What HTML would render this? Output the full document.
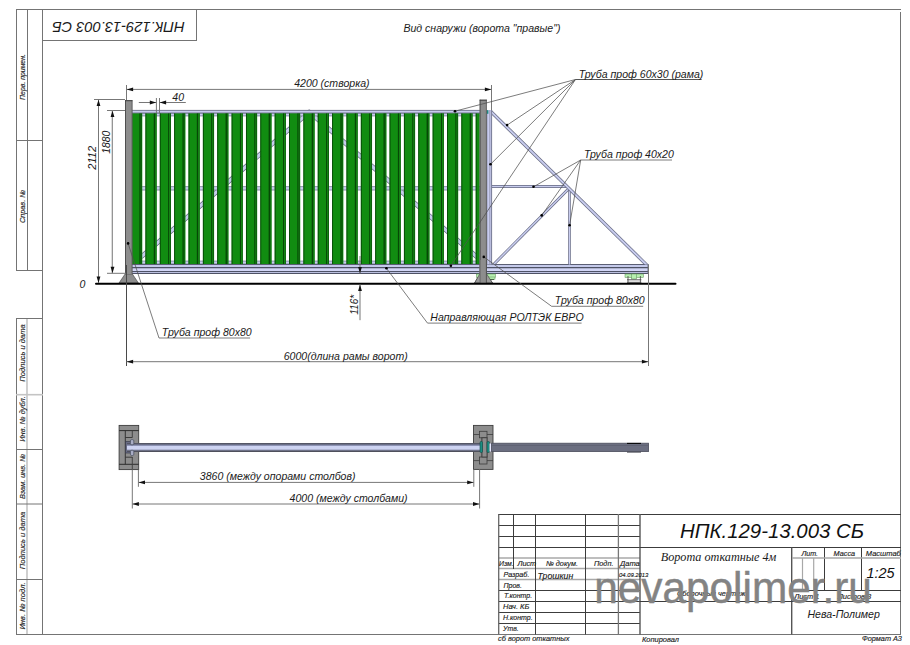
<!DOCTYPE html>
<html><head><meta charset="utf-8"><style>
html,body{margin:0;padding:0;background:#fff;width:910px;height:645px;overflow:hidden}
svg{display:block}
</style></head><body>
<svg width="910" height="645" viewBox="0 0 910 645">
<rect width="910" height="645" fill="#fff"/>
<line x1="16" y1="9.5" x2="901" y2="9.5" stroke="#747474" stroke-width="1" />
<line x1="900.5" y1="12" x2="900.5" y2="635" stroke="#747474" stroke-width="1" />
<line x1="16" y1="634.5" x2="901" y2="634.5" stroke="#747474" stroke-width="1" />
<line x1="42.5" y1="9" x2="42.5" y2="635" stroke="#747474" stroke-width="1" />
<line x1="16.5" y1="9" x2="16.5" y2="271" stroke="#747474" stroke-width="1" />
<line x1="27.5" y1="9" x2="27.5" y2="271" stroke="#747474" stroke-width="1" />
<line x1="16" y1="140.5" x2="43" y2="140.5" stroke="#747474" stroke-width="1" />
<line x1="16" y1="270.5" x2="43" y2="270.5" stroke="#747474" stroke-width="1" />
<line x1="16.5" y1="318" x2="16.5" y2="635" stroke="#747474" stroke-width="1" />
<line x1="27" y1="318.5" x2="27" y2="634" stroke="#c4c4c4" stroke-width="1.6" />
<line x1="16" y1="318.5" x2="43" y2="318.5" stroke="#747474" stroke-width="1" />
<line x1="16" y1="394.7" x2="43" y2="394.7" stroke="#c4c4c4" stroke-width="1.6" />
<line x1="16" y1="449.5" x2="43" y2="449.5" stroke="#747474" stroke-width="1" />
<line x1="16" y1="504" x2="43" y2="504" stroke="#747474" stroke-width="1" />
<line x1="16" y1="579.5" x2="43" y2="579.5" stroke="#747474" stroke-width="1" />
<text x="0" y="0" transform="translate(24.8,77) rotate(-90)" text-anchor="middle" font-family='"Liberation Sans", sans-serif' font-size="6.9" font-style="italic" fill="#222" stroke="#222" stroke-width="0.14">Перв. примен.</text>
<text x="0" y="0" transform="translate(24.8,206.5) rotate(-90)" text-anchor="middle" font-family='"Liberation Sans", sans-serif' font-size="7.3" font-style="italic" fill="#222" stroke="#222" stroke-width="0.14">Справ. №</text>
<text x="0" y="0" transform="translate(24.8,353) rotate(-90)" text-anchor="middle" font-family='"Liberation Sans", sans-serif' font-size="7.6" font-style="italic" fill="#222" stroke="#222" stroke-width="0.14">Подпись и дата</text>
<text x="0" y="0" transform="translate(24.8,419) rotate(-90)" text-anchor="middle" font-family='"Liberation Sans", sans-serif' font-size="7.4" font-style="italic" fill="#222" stroke="#222" stroke-width="0.14">Инв. № дубл.</text>
<text x="0" y="0" transform="translate(24.8,476.5) rotate(-90)" text-anchor="middle" font-family='"Liberation Sans", sans-serif' font-size="7.3" font-style="italic" fill="#222" stroke="#222" stroke-width="0.14">Взам. инв. №</text>
<text x="0" y="0" transform="translate(24.8,540.5) rotate(-90)" text-anchor="middle" font-family='"Liberation Sans", sans-serif' font-size="7.6" font-style="italic" fill="#222" stroke="#222" stroke-width="0.14">Подпись и дата</text>
<text x="0" y="0" transform="translate(24.8,606) rotate(-90)" text-anchor="middle" font-family='"Liberation Sans", sans-serif' font-size="7.6" font-style="italic" fill="#222" stroke="#222" stroke-width="0.14">Инв. № подл.</text>
<rect x="42.5" y="9.5" width="154" height="31" fill="none" stroke="#747474" stroke-width="1" />
<text x="0" y="0" transform="translate(118.4,27.3) rotate(180)" text-anchor="middle" dominant-baseline="central" textLength="132.5" lengthAdjust="spacingAndGlyphs" font-family='"Liberation Sans", sans-serif' font-size="15.4" font-style="italic" fill="#1a1a1a">НПК.129-13.003 СБ</text>
<text x="403.4" y="31.8" font-family='"Liberation Sans", sans-serif' font-size="10.55" font-style="italic" fill="#1a1a1a" >Вид снаружи (ворота "правые")</text>
<polyline points="141,257 309.2,112 477,257" fill="none" stroke="#62667e" stroke-width="4.6" stroke-linejoin="round"/>
<polyline points="141,257 309.2,112 477,257" fill="none" stroke="#c8ccee" stroke-width="3.2" stroke-linejoin="round"/>
<rect x="132" y="113" width="348" height="3.200000000000003" fill="#c8ccee" stroke="none" stroke-width="1" />
<line x1="132" y1="113.3" x2="480" y2="113.3" stroke="#62667e" stroke-width="0.6" />
<line x1="132" y1="115.9" x2="480" y2="115.9" stroke="#62667e" stroke-width="0.6" />
<rect x="132" y="186.3" width="348" height="4.0" fill="#c8ccee" stroke="none" stroke-width="1" />
<line x1="132" y1="186.60000000000002" x2="480" y2="186.60000000000002" stroke="#62667e" stroke-width="0.6" />
<line x1="132" y1="190.0" x2="480" y2="190.0" stroke="#62667e" stroke-width="0.6" />
<rect x="132" y="260.8" width="348" height="3.3999999999999773" fill="#c8ccee" stroke="none" stroke-width="1" />
<line x1="132" y1="261.1" x2="480" y2="261.1" stroke="#62667e" stroke-width="0.6" />
<line x1="132" y1="263.9" x2="480" y2="263.9" stroke="#62667e" stroke-width="0.6" />
<rect x="132.0" y="113.2" width="10.0" height="151.0" fill="#118c11" stroke="none" stroke-width="1" />
<rect x="139.4" y="113.2" width="1.4" height="151.0" fill="#064806" stroke="none" stroke-width="1" />
<rect x="140.8" y="113.2" width="1.5" height="151.0" fill="#1fa01f" stroke="none" stroke-width="1" />
<rect x="141.3" y="113.2" width="0.7" height="151.0" fill="#064806" stroke="none" stroke-width="1" />
<rect x="145.46" y="113.2" width="10.9" height="151.0" fill="#118c11" stroke="none" stroke-width="1" />
<rect x="145.46" y="113.2" width="0.9" height="151.0" fill="#064806" stroke="none" stroke-width="1" />
<rect x="153.76" y="113.2" width="1.4" height="151.0" fill="#064806" stroke="none" stroke-width="1" />
<rect x="155.16" y="113.2" width="1.5" height="151.0" fill="#1fa01f" stroke="none" stroke-width="1" />
<rect x="155.66" y="113.2" width="0.7" height="151.0" fill="#064806" stroke="none" stroke-width="1" />
<rect x="159.82" y="113.2" width="10.9" height="151.0" fill="#118c11" stroke="none" stroke-width="1" />
<rect x="159.82" y="113.2" width="0.9" height="151.0" fill="#064806" stroke="none" stroke-width="1" />
<rect x="168.12" y="113.2" width="1.4" height="151.0" fill="#064806" stroke="none" stroke-width="1" />
<rect x="169.52" y="113.2" width="1.5" height="151.0" fill="#1fa01f" stroke="none" stroke-width="1" />
<rect x="170.02" y="113.2" width="0.7" height="151.0" fill="#064806" stroke="none" stroke-width="1" />
<rect x="174.18" y="113.2" width="10.9" height="151.0" fill="#118c11" stroke="none" stroke-width="1" />
<rect x="174.18" y="113.2" width="0.9" height="151.0" fill="#064806" stroke="none" stroke-width="1" />
<rect x="182.48" y="113.2" width="1.4" height="151.0" fill="#064806" stroke="none" stroke-width="1" />
<rect x="183.88" y="113.2" width="1.5" height="151.0" fill="#1fa01f" stroke="none" stroke-width="1" />
<rect x="184.38" y="113.2" width="0.7" height="151.0" fill="#064806" stroke="none" stroke-width="1" />
<rect x="188.54" y="113.2" width="10.9" height="151.0" fill="#118c11" stroke="none" stroke-width="1" />
<rect x="188.54" y="113.2" width="0.9" height="151.0" fill="#064806" stroke="none" stroke-width="1" />
<rect x="196.84" y="113.2" width="1.4" height="151.0" fill="#064806" stroke="none" stroke-width="1" />
<rect x="198.24" y="113.2" width="1.5" height="151.0" fill="#1fa01f" stroke="none" stroke-width="1" />
<rect x="198.74" y="113.2" width="0.7" height="151.0" fill="#064806" stroke="none" stroke-width="1" />
<rect x="202.9" y="113.2" width="10.9" height="151.0" fill="#118c11" stroke="none" stroke-width="1" />
<rect x="202.9" y="113.2" width="0.9" height="151.0" fill="#064806" stroke="none" stroke-width="1" />
<rect x="211.2" y="113.2" width="1.4" height="151.0" fill="#064806" stroke="none" stroke-width="1" />
<rect x="212.6" y="113.2" width="1.5" height="151.0" fill="#1fa01f" stroke="none" stroke-width="1" />
<rect x="213.1" y="113.2" width="0.7" height="151.0" fill="#064806" stroke="none" stroke-width="1" />
<rect x="217.26" y="113.2" width="10.9" height="151.0" fill="#118c11" stroke="none" stroke-width="1" />
<rect x="217.26" y="113.2" width="0.9" height="151.0" fill="#064806" stroke="none" stroke-width="1" />
<rect x="225.56" y="113.2" width="1.4" height="151.0" fill="#064806" stroke="none" stroke-width="1" />
<rect x="226.96" y="113.2" width="1.5" height="151.0" fill="#1fa01f" stroke="none" stroke-width="1" />
<rect x="227.46" y="113.2" width="0.7" height="151.0" fill="#064806" stroke="none" stroke-width="1" />
<rect x="231.62" y="113.2" width="10.9" height="151.0" fill="#118c11" stroke="none" stroke-width="1" />
<rect x="231.62" y="113.2" width="0.9" height="151.0" fill="#064806" stroke="none" stroke-width="1" />
<rect x="239.92" y="113.2" width="1.4" height="151.0" fill="#064806" stroke="none" stroke-width="1" />
<rect x="241.32" y="113.2" width="1.5" height="151.0" fill="#1fa01f" stroke="none" stroke-width="1" />
<rect x="241.82" y="113.2" width="0.7" height="151.0" fill="#064806" stroke="none" stroke-width="1" />
<rect x="245.98" y="113.2" width="10.9" height="151.0" fill="#118c11" stroke="none" stroke-width="1" />
<rect x="245.98" y="113.2" width="0.9" height="151.0" fill="#064806" stroke="none" stroke-width="1" />
<rect x="254.28" y="113.2" width="1.4" height="151.0" fill="#064806" stroke="none" stroke-width="1" />
<rect x="255.68" y="113.2" width="1.5" height="151.0" fill="#1fa01f" stroke="none" stroke-width="1" />
<rect x="256.18" y="113.2" width="0.7" height="151.0" fill="#064806" stroke="none" stroke-width="1" />
<rect x="260.34" y="113.2" width="10.9" height="151.0" fill="#118c11" stroke="none" stroke-width="1" />
<rect x="260.34" y="113.2" width="0.9" height="151.0" fill="#064806" stroke="none" stroke-width="1" />
<rect x="268.64" y="113.2" width="1.4" height="151.0" fill="#064806" stroke="none" stroke-width="1" />
<rect x="270.04" y="113.2" width="1.5" height="151.0" fill="#1fa01f" stroke="none" stroke-width="1" />
<rect x="270.54" y="113.2" width="0.7" height="151.0" fill="#064806" stroke="none" stroke-width="1" />
<rect x="274.7" y="113.2" width="10.9" height="151.0" fill="#118c11" stroke="none" stroke-width="1" />
<rect x="274.7" y="113.2" width="0.9" height="151.0" fill="#064806" stroke="none" stroke-width="1" />
<rect x="283.0" y="113.2" width="1.4" height="151.0" fill="#064806" stroke="none" stroke-width="1" />
<rect x="284.4" y="113.2" width="1.5" height="151.0" fill="#1fa01f" stroke="none" stroke-width="1" />
<rect x="284.9" y="113.2" width="0.7" height="151.0" fill="#064806" stroke="none" stroke-width="1" />
<rect x="289.06" y="113.2" width="10.9" height="151.0" fill="#118c11" stroke="none" stroke-width="1" />
<rect x="289.06" y="113.2" width="0.9" height="151.0" fill="#064806" stroke="none" stroke-width="1" />
<rect x="297.36" y="113.2" width="1.4" height="151.0" fill="#064806" stroke="none" stroke-width="1" />
<rect x="298.76" y="113.2" width="1.5" height="151.0" fill="#1fa01f" stroke="none" stroke-width="1" />
<rect x="299.26" y="113.2" width="0.7" height="151.0" fill="#064806" stroke="none" stroke-width="1" />
<rect x="303.42" y="113.2" width="10.9" height="151.0" fill="#118c11" stroke="none" stroke-width="1" />
<rect x="303.42" y="113.2" width="0.9" height="151.0" fill="#064806" stroke="none" stroke-width="1" />
<rect x="311.72" y="113.2" width="1.4" height="151.0" fill="#064806" stroke="none" stroke-width="1" />
<rect x="313.12" y="113.2" width="1.5" height="151.0" fill="#1fa01f" stroke="none" stroke-width="1" />
<rect x="313.62" y="113.2" width="0.7" height="151.0" fill="#064806" stroke="none" stroke-width="1" />
<rect x="317.78" y="113.2" width="10.9" height="151.0" fill="#118c11" stroke="none" stroke-width="1" />
<rect x="317.78" y="113.2" width="0.9" height="151.0" fill="#064806" stroke="none" stroke-width="1" />
<rect x="326.08" y="113.2" width="1.4" height="151.0" fill="#064806" stroke="none" stroke-width="1" />
<rect x="327.48" y="113.2" width="1.5" height="151.0" fill="#1fa01f" stroke="none" stroke-width="1" />
<rect x="327.98" y="113.2" width="0.7" height="151.0" fill="#064806" stroke="none" stroke-width="1" />
<rect x="332.14" y="113.2" width="10.9" height="151.0" fill="#118c11" stroke="none" stroke-width="1" />
<rect x="332.14" y="113.2" width="0.9" height="151.0" fill="#064806" stroke="none" stroke-width="1" />
<rect x="340.44" y="113.2" width="1.4" height="151.0" fill="#064806" stroke="none" stroke-width="1" />
<rect x="341.84" y="113.2" width="1.5" height="151.0" fill="#1fa01f" stroke="none" stroke-width="1" />
<rect x="342.34" y="113.2" width="0.7" height="151.0" fill="#064806" stroke="none" stroke-width="1" />
<rect x="346.5" y="113.2" width="10.9" height="151.0" fill="#118c11" stroke="none" stroke-width="1" />
<rect x="346.5" y="113.2" width="0.9" height="151.0" fill="#064806" stroke="none" stroke-width="1" />
<rect x="354.8" y="113.2" width="1.4" height="151.0" fill="#064806" stroke="none" stroke-width="1" />
<rect x="356.2" y="113.2" width="1.5" height="151.0" fill="#1fa01f" stroke="none" stroke-width="1" />
<rect x="356.7" y="113.2" width="0.7" height="151.0" fill="#064806" stroke="none" stroke-width="1" />
<rect x="360.86" y="113.2" width="10.9" height="151.0" fill="#118c11" stroke="none" stroke-width="1" />
<rect x="360.86" y="113.2" width="0.9" height="151.0" fill="#064806" stroke="none" stroke-width="1" />
<rect x="369.16" y="113.2" width="1.4" height="151.0" fill="#064806" stroke="none" stroke-width="1" />
<rect x="370.56" y="113.2" width="1.5" height="151.0" fill="#1fa01f" stroke="none" stroke-width="1" />
<rect x="371.06" y="113.2" width="0.7" height="151.0" fill="#064806" stroke="none" stroke-width="1" />
<rect x="375.22" y="113.2" width="10.9" height="151.0" fill="#118c11" stroke="none" stroke-width="1" />
<rect x="375.22" y="113.2" width="0.9" height="151.0" fill="#064806" stroke="none" stroke-width="1" />
<rect x="383.52" y="113.2" width="1.4" height="151.0" fill="#064806" stroke="none" stroke-width="1" />
<rect x="384.92" y="113.2" width="1.5" height="151.0" fill="#1fa01f" stroke="none" stroke-width="1" />
<rect x="385.42" y="113.2" width="0.7" height="151.0" fill="#064806" stroke="none" stroke-width="1" />
<rect x="389.58" y="113.2" width="10.9" height="151.0" fill="#118c11" stroke="none" stroke-width="1" />
<rect x="389.58" y="113.2" width="0.9" height="151.0" fill="#064806" stroke="none" stroke-width="1" />
<rect x="397.88" y="113.2" width="1.4" height="151.0" fill="#064806" stroke="none" stroke-width="1" />
<rect x="399.28" y="113.2" width="1.5" height="151.0" fill="#1fa01f" stroke="none" stroke-width="1" />
<rect x="399.78" y="113.2" width="0.7" height="151.0" fill="#064806" stroke="none" stroke-width="1" />
<rect x="403.94" y="113.2" width="10.9" height="151.0" fill="#118c11" stroke="none" stroke-width="1" />
<rect x="403.94" y="113.2" width="0.9" height="151.0" fill="#064806" stroke="none" stroke-width="1" />
<rect x="412.24" y="113.2" width="1.4" height="151.0" fill="#064806" stroke="none" stroke-width="1" />
<rect x="413.64" y="113.2" width="1.5" height="151.0" fill="#1fa01f" stroke="none" stroke-width="1" />
<rect x="414.14" y="113.2" width="0.7" height="151.0" fill="#064806" stroke="none" stroke-width="1" />
<rect x="418.3" y="113.2" width="10.9" height="151.0" fill="#118c11" stroke="none" stroke-width="1" />
<rect x="418.3" y="113.2" width="0.9" height="151.0" fill="#064806" stroke="none" stroke-width="1" />
<rect x="426.6" y="113.2" width="1.4" height="151.0" fill="#064806" stroke="none" stroke-width="1" />
<rect x="428.0" y="113.2" width="1.5" height="151.0" fill="#1fa01f" stroke="none" stroke-width="1" />
<rect x="428.5" y="113.2" width="0.7" height="151.0" fill="#064806" stroke="none" stroke-width="1" />
<rect x="432.66" y="113.2" width="10.9" height="151.0" fill="#118c11" stroke="none" stroke-width="1" />
<rect x="432.66" y="113.2" width="0.9" height="151.0" fill="#064806" stroke="none" stroke-width="1" />
<rect x="440.96" y="113.2" width="1.4" height="151.0" fill="#064806" stroke="none" stroke-width="1" />
<rect x="442.36" y="113.2" width="1.5" height="151.0" fill="#1fa01f" stroke="none" stroke-width="1" />
<rect x="442.86" y="113.2" width="0.7" height="151.0" fill="#064806" stroke="none" stroke-width="1" />
<rect x="447.02" y="113.2" width="10.9" height="151.0" fill="#118c11" stroke="none" stroke-width="1" />
<rect x="447.02" y="113.2" width="0.9" height="151.0" fill="#064806" stroke="none" stroke-width="1" />
<rect x="455.32" y="113.2" width="1.4" height="151.0" fill="#064806" stroke="none" stroke-width="1" />
<rect x="456.72" y="113.2" width="1.5" height="151.0" fill="#1fa01f" stroke="none" stroke-width="1" />
<rect x="457.22" y="113.2" width="0.7" height="151.0" fill="#064806" stroke="none" stroke-width="1" />
<rect x="461.38" y="113.2" width="10.9" height="151.0" fill="#118c11" stroke="none" stroke-width="1" />
<rect x="461.38" y="113.2" width="0.9" height="151.0" fill="#064806" stroke="none" stroke-width="1" />
<rect x="469.68" y="113.2" width="1.4" height="151.0" fill="#064806" stroke="none" stroke-width="1" />
<rect x="471.08" y="113.2" width="1.5" height="151.0" fill="#1fa01f" stroke="none" stroke-width="1" />
<rect x="471.58" y="113.2" width="0.7" height="151.0" fill="#064806" stroke="none" stroke-width="1" />
<rect x="475.74" y="113.2" width="3.96" height="151.0" fill="#118c11" stroke="none" stroke-width="1" />
<rect x="475.74" y="113.2" width="0.9" height="151.0" fill="#064806" stroke="none" stroke-width="1" />
<rect x="132" y="110.2" width="348" height="2.8" fill="#c8ccee" stroke="none" stroke-width="1" />
<line x1="132" y1="110.4" x2="480" y2="110.4" stroke="#62667e" stroke-width="0.8" />
<line x1="132" y1="112.9" x2="480" y2="112.9" stroke="#62667e" stroke-width="0.7" />
<rect x="132" y="264.2" width="516.3" height="9.5" fill="#bcc0e0" stroke="none" stroke-width="1" />
<rect x="132" y="268.1" width="516.3" height="3" fill="#d2d6f6"/>
<rect x="132" y="265.2" width="516.3" height="1.6" fill="#c8ccee"/>
<line x1="132" y1="264.5" x2="648.3" y2="264.5" stroke="#4e5266" stroke-width="0.9" />
<line x1="132" y1="267.6" x2="648.3" y2="267.6" stroke="#4e5266" stroke-width="1.1" />
<line x1="132" y1="271.5" x2="648.3" y2="271.5" stroke="#4e5266" stroke-width="1.1" />
<line x1="132" y1="273.5" x2="648.3" y2="273.5" stroke="#4e5266" stroke-width="1.0" />
<line x1="648" y1="264.2" x2="648" y2="273.8" stroke="#62667e" stroke-width="0.9" />
<defs><clipPath id="tri"><rect x="491" y="109.6" width="157.6" height="154.8"/></clipPath></defs><g clip-path="url(#tri)">
<line x1="569.5" y1="188.5" x2="569.5" y2="265" stroke="#62667e" stroke-width="2.6"/>
<line x1="569.5" y1="188.5" x2="569.5" y2="265" stroke="#c8ccee" stroke-width="1.3"/>
<line x1="492.6" y1="265.5" x2="568.4" y2="189" stroke="#62667e" stroke-width="2.9"/>
<line x1="492.6" y1="265.5" x2="568.4" y2="189" stroke="#c8ccee" stroke-width="1.5999999999999999"/>
<line x1="491" y1="186.5" x2="566" y2="186.5" stroke="#62667e" stroke-width="2.8"/>
<line x1="491" y1="186.5" x2="566" y2="186.5" stroke="#c8ccee" stroke-width="1.4999999999999998"/>
<line x1="490.5" y1="111.2" x2="650" y2="268.2" stroke="#62667e" stroke-width="3.3"/>
<line x1="490.5" y1="111.2" x2="650" y2="268.2" stroke="#c8ccee" stroke-width="1.9999999999999998"/>
</g>
<rect x="486.6" y="110" width="5.4" height="154.5" fill="#c8ccee" stroke="none" stroke-width="1" />
<line x1="489.8" y1="110" x2="489.8" y2="264.5" stroke="#8a8ea8" stroke-width="0.8" />
<line x1="491.6" y1="110" x2="491.6" y2="264.5" stroke="#62667e" stroke-width="0.8" />
<line x1="487.0" y1="110" x2="487.0" y2="264.5" stroke="#7a7e98" stroke-width="0.6" />
<rect x="486.8" y="110.2" width="1.6" height="3.6" fill="#1d8a80" stroke="none" stroke-width="1" />
<polygon points="125.1,274 132.4,274 138.4,283 119,283" fill="#8d8d8d" stroke="#3c3c3c" stroke-width="0.6" />
<rect x="125.1" y="100.2" width="7.300000000000011" height="173.8" fill="#8d8d8d" stroke="none" stroke-width="1" />
<line x1="125.5" y1="100.2" x2="125.5" y2="274" stroke="#3c3c3c" stroke-width="0.8" />
<line x1="132.1" y1="100.2" x2="132.1" y2="274" stroke="#3c3c3c" stroke-width="0.6" />
<line x1="125.1" y1="100.7" x2="132.4" y2="100.7" stroke="#3c3c3c" stroke-width="1" />
<polygon points="479.7,274 486.7,274 492.5,283 474.6,283" fill="#8d8d8d" stroke="#3c3c3c" stroke-width="0.6" />
<rect x="479.7" y="99.7" width="7.0" height="174.3" fill="#8d8d8d" stroke="none" stroke-width="1" />
<line x1="480.09999999999997" y1="99.7" x2="480.09999999999997" y2="274" stroke="#3c3c3c" stroke-width="0.8" />
<line x1="486.4" y1="99.7" x2="486.4" y2="274" stroke="#3c3c3c" stroke-width="0.6" />
<line x1="479.7" y1="100.2" x2="486.7" y2="100.2" stroke="#3c3c3c" stroke-width="1" />
<rect x="625" y="274" width="18.399999999999977" height="3.5" fill="#b7efb0" stroke="#5a8a55" stroke-width="0.5" />
<rect x="631.7" y="274" width="5" height="5" fill="#b7efb0" stroke="#5a8a55" stroke-width="0.5" />
<line x1="627" y1="279.8" x2="641.4" y2="279.8" stroke="#333" stroke-width="0.8" />
<line x1="628" y1="276" x2="628" y2="282.5" stroke="#444" stroke-width="0.8" />
<line x1="640.4" y1="276" x2="640.4" y2="282.5" stroke="#444" stroke-width="0.8" />
<line x1="627" y1="282.3" x2="641.4" y2="282.3" stroke="#333" stroke-width="0.8" />
<rect x="476.5" y="274" width="19" height="3.5" fill="#b7efb0" stroke="#5a8a55" stroke-width="0.5" />
<rect x="487" y="277" width="8" height="2.2" fill="#b7efb0" stroke="#5a8a55" stroke-width="0.5" />
<line x1="489" y1="279.5" x2="494" y2="279.5" stroke="#3a5a3a" stroke-width="0.9" />
<polygon points="479.7,274 486.7,274 492.5,283 474.6,283" fill="#9a9a9a" stroke="#3c3c3c" stroke-width="0.6" />
<rect x="479.7" y="260" width="7" height="23" fill="#8d8d8d" stroke="none" stroke-width="1" />
<line x1="480.1" y1="260" x2="480.1" y2="283" stroke="#5a5a5a" stroke-width="0.7" />
<line x1="486.4" y1="260" x2="486.4" y2="283" stroke="#3c3c3c" stroke-width="0.7" />
<line x1="96" y1="283.8" x2="675.5" y2="283.8" stroke="#000" stroke-width="2.0" stroke-linecap="round"/>
<line x1="126.5" y1="85" x2="126.5" y2="100" stroke="#777777" stroke-width="1" />
<line x1="491.5" y1="85" x2="491.5" y2="110" stroke="#777777" stroke-width="1" />
<line x1="126.5" y1="89.4" x2="491.5" y2="89.4" stroke="#777777" stroke-width="1" />
<polygon points="126.7,89.4 133.1,87.5 133.1,91.3" fill="#111" stroke="none" stroke-width="1" />
<polygon points="491.3,89.4 484.9,91.3 484.9,87.5" fill="#111" stroke="none" stroke-width="1" />
<text x="294.2" y="86.7" font-family='"Liberation Sans", sans-serif' font-size="10.55" font-style="italic" fill="#1a1a1a" >4200 (створка)</text>
<line x1="156.4" y1="98" x2="156.4" y2="113" stroke="#777777" stroke-width="1" />
<line x1="159.5" y1="98" x2="159.5" y2="113" stroke="#777777" stroke-width="1" />
<line x1="138.8" y1="102.5" x2="156.4" y2="102.5" stroke="#777777" stroke-width="1" />
<line x1="159.5" y1="102.5" x2="185.8" y2="102.5" stroke="#777777" stroke-width="1" />
<polygon points="156.2,102.5 149.8,104.4 149.8,100.6" fill="#111" stroke="none" stroke-width="1" />
<polygon points="159.7,102.5 166.1,100.6 166.1,104.4" fill="#111" stroke="none" stroke-width="1" />
<text x="172.3" y="100.8" font-family='"Liberation Sans", sans-serif' font-size="10.55" font-style="italic" fill="#1a1a1a" >40</text>
<line x1="94" y1="99.5" x2="125" y2="99.5" stroke="#777777" stroke-width="1" />
<line x1="98.5" y1="99.5" x2="98.5" y2="283" stroke="#777777" stroke-width="1" />
<polygon points="98.5,99.7 100.4,106.1 96.6,106.1" fill="#111" stroke="none" stroke-width="1" />
<polygon points="98.5,283 96.6,276.6 100.4,276.6" fill="#111" stroke="none" stroke-width="1" />
<line x1="107" y1="110.5" x2="125" y2="110.5" stroke="#777777" stroke-width="1" />
<line x1="112.3" y1="110.5" x2="112.3" y2="273.2" stroke="#8a8a8a" stroke-width="1.2" />
<polygon points="112.5,110.7 114.4,117.1 110.6,117.1" fill="#111" stroke="none" stroke-width="1" />
<polygon points="112.5,273.2 110.6,266.8 114.4,266.8" fill="#111" stroke="none" stroke-width="1" />
<line x1="107" y1="273.3" x2="126" y2="273.3" stroke="#777777" stroke-width="1" />
<text x="0" y="0" transform="translate(96.4,157.8) rotate(-90)" text-anchor="middle" font-family='"Liberation Sans", sans-serif' font-size="11" font-style="italic" fill="#1a1a1a">2112</text>
<text x="0" y="0" transform="translate(110.2,142.2) rotate(-90)" text-anchor="middle" font-family='"Liberation Sans", sans-serif' font-size="10.4" font-style="italic" fill="#1a1a1a">1880</text>
<text x="79.5" y="287.6" font-family='"Liberation Sans", sans-serif' font-size="10.55" font-style="italic" fill="#1a1a1a" >0</text>
<line x1="360" y1="256" x2="360" y2="273.3" stroke="#777777" stroke-width="1" />
<polygon points="360,273.3 358.1,266.9 361.9,266.9" fill="#111" stroke="none" stroke-width="1" />
<line x1="360" y1="284.6" x2="360" y2="320.2" stroke="#777777" stroke-width="1" />
<polygon points="360,284.6 361.9,291.0 358.1,291.0" fill="#111" stroke="none" stroke-width="1" />
<text x="0" y="0" transform="translate(357.6,304.8) rotate(-90)" text-anchor="middle" font-family='"Liberation Sans", sans-serif' font-size="10" font-style="italic" fill="#1a1a1a">116*</text>
<line x1="126.5" y1="265" x2="126.5" y2="366" stroke="#4a4a4a" stroke-width="1" />
<line x1="648.5" y1="264.5" x2="648.5" y2="366" stroke="#777777" stroke-width="1" />
<line x1="126.5" y1="361.7" x2="648.5" y2="361.7" stroke="#777777" stroke-width="1" />
<polygon points="126.7,361.7 133.1,359.8 133.1,363.6" fill="#111" stroke="none" stroke-width="1" />
<polygon points="648.3,361.7 641.9,363.6 641.9,359.8" fill="#111" stroke="none" stroke-width="1" />
<text x="283.7" y="359.7" font-family='"Liberation Sans", sans-serif' font-size="10.55" font-style="italic" fill="#1a1a1a" >6000(длина рамы ворот)</text>
<polyline points="455,111.2 575.5,79.5" fill="none" stroke="#505050" stroke-width="0.75"/>
<circle cx="455" cy="111.2" r="1.3" fill="#000"/>
<polyline points="507.1,125.1 575.5,79.5" fill="none" stroke="#505050" stroke-width="0.75"/>
<circle cx="507.1" cy="125.1" r="1.3" fill="#000"/>
<polyline points="490.5,164.3 575.5,79.5" fill="none" stroke="#505050" stroke-width="0.75"/>
<circle cx="490.5" cy="164.3" r="1.3" fill="#000"/>
<polyline points="450.9,265.7 575.5,79.5" fill="none" stroke="#505050" stroke-width="0.75"/>
<circle cx="450.9" cy="265.7" r="1.3" fill="#000"/>
<line x1="575.5" y1="79.5" x2="701.6" y2="79.5" stroke="#555" stroke-width="1"/>
<text x="578.7" y="77.7" font-family='"Liberation Sans", sans-serif' font-size="10.55" font-style="italic" fill="#1a1a1a" >Труба проф 60x30 (рама)</text>
<polyline points="533.5,186.8 580.7,160" fill="none" stroke="#505050" stroke-width="0.75"/>
<circle cx="533.5" cy="186.8" r="1.3" fill="#000"/>
<polyline points="541.7,215.4 580.7,160" fill="none" stroke="#505050" stroke-width="0.75"/>
<circle cx="541.7" cy="215.4" r="1.3" fill="#000"/>
<polyline points="569.6,225.3 580.7,160" fill="none" stroke="#505050" stroke-width="0.75"/>
<circle cx="569.6" cy="225.3" r="1.3" fill="#000"/>
<polyline points="580.7,160 672,160" fill="none" stroke="#505050" stroke-width="0.75"/>
<text x="584" y="157.9" font-family='"Liberation Sans", sans-serif' font-size="10.55" font-style="italic" fill="#1a1a1a" >Труба проф 40x20</text>
<polyline points="483.8,256.9 551.6,306.3 643.2,306.3" fill="none" stroke="#505050" stroke-width="0.75"/>
<circle cx="483.8" cy="256.9" r="1.3" fill="#000"/>
<text x="554.8" y="303.7" font-family='"Liberation Sans", sans-serif' font-size="10.55" font-style="italic" fill="#1a1a1a" >Труба проф 80x80</text>
<polyline points="386.4,268.3 427.5,323.1 581.6,323.1" fill="none" stroke="#505050" stroke-width="0.75"/>
<circle cx="386.4" cy="268.3" r="1.3" fill="#000"/>
<text x="430.3" y="320.9" font-family='"Liberation Sans", sans-serif' font-size="10.55" font-style="italic" fill="#1a1a1a" >Направляющая РОЛТЭК ЕВРО</text>
<polyline points="128.1,243.4 159,338 250.1,338" fill="none" stroke="#505050" stroke-width="0.75"/>
<circle cx="128.1" cy="243.4" r="1.3" fill="#000"/>
<text x="161.8" y="335.9" font-family='"Liberation Sans", sans-serif' font-size="10.55" font-style="italic" fill="#1a1a1a" >Труба проф 80x80</text>
<defs><linearGradient id="tg" x1="0" y1="0" x2="0" y2="1"><stop offset="0" stop-color="#4e4f5a"/><stop offset="0.12" stop-color="#5c5f74"/><stop offset="0.28" stop-color="#8e94b6"/><stop offset="0.36" stop-color="#cdd3f2"/><stop offset="0.68" stop-color="#cdd3f2"/><stop offset="0.78" stop-color="#8a8fab"/><stop offset="0.9" stop-color="#4a4c5a"/><stop offset="1" stop-color="#55565e"/></linearGradient></defs>
<rect x="119.1" y="425.4" width="19.599999999999994" height="44.200000000000045" fill="#8d8d8d" stroke="#3c3c3c" stroke-width="0.9" />
<line x1="119.1" y1="430.6" x2="138.7" y2="430.6" stroke="#222" stroke-width="0.9" />
<line x1="119.1" y1="464.3" x2="138.7" y2="464.3" stroke="#222" stroke-width="0.9" />
<line x1="125.3" y1="430.6" x2="125.3" y2="464.3" stroke="#2a2a2a" stroke-width="0.9" />
<line x1="132.3" y1="430.6" x2="132.3" y2="437.5" stroke="#3c3c3c" stroke-width="0.9" />
<line x1="132.3" y1="457" x2="132.3" y2="469.6" stroke="#3c3c3c" stroke-width="0.9" />
<line x1="125.3" y1="437.5" x2="132.3" y2="437.5" stroke="#333" stroke-width="0.9" />
<line x1="125.3" y1="457.2" x2="132.3" y2="457.2" stroke="#333" stroke-width="0.9" />
<rect x="125.7" y="441.6" width="5.5" height="11.4" fill="#6a6d86" stroke="#3a3c4c" stroke-width="0.7" />
<rect x="127" y="443" width="12" height="9" fill="url(#tg)" stroke="none" stroke-width="1" />
<rect x="130.4" y="439.6" width="3.4" height="5.2" fill="#a9adc6" stroke="#444a5a" stroke-width="0.7" rx="1.3"/>
<rect x="130.4" y="450.3" width="3.4" height="5.2" fill="#a9adc6" stroke="#444a5a" stroke-width="0.7" rx="1.3"/>
<rect x="473.5" y="425.4" width="19.5" height="44.0" fill="#8d8d8d" stroke="#3c3c3c" stroke-width="0.9" />
<rect x="479.5" y="431.3" width="7.5" height="6.5" fill="#8d8d8d" stroke="#3c3c3c" stroke-width="0.8" />
<rect x="482" y="437.8" width="5" height="19.2" fill="#8d8d8d" stroke="#3c3c3c" stroke-width="0.8" />
<rect x="479.5" y="457" width="7.5" height="7" fill="#8d8d8d" stroke="#3c3c3c" stroke-width="0.8" />
<line x1="473.5" y1="434.5" x2="479.5" y2="434.5" stroke="#3c3c3c" stroke-width="0.8" />
<line x1="487" y1="434.5" x2="493" y2="434.5" stroke="#3c3c3c" stroke-width="0.8" />
<line x1="473.5" y1="460.6" x2="479.5" y2="460.6" stroke="#3c3c3c" stroke-width="0.8" />
<line x1="487" y1="460.6" x2="493" y2="460.6" stroke="#3c3c3c" stroke-width="0.8" />
<rect x="135" y="443" width="345" height="9" fill="url(#tg)" stroke="none" stroke-width="1" />
<rect x="482" y="437.8" width="5" height="19.2" fill="#8d8d8d" stroke="#3c3c3c" stroke-width="0.8" />
<rect x="480" y="441.5" width="2.5" height="11" fill="#1b8d82" stroke="#0d4a45" stroke-width="0.6" rx="1"/>
<rect x="487" y="441.5" width="2.5" height="11" fill="#1b8d82" stroke="#0d4a45" stroke-width="0.6" rx="1"/>
<rect x="489.5" y="443.5" width="2.2" height="8" fill="#e6e8ff" stroke="none" stroke-width="1" />
<rect x="491.6" y="443.2" width="157" height="8.4" fill="#6b6e80" stroke="#4c4e5c" stroke-width="0.8" />
<line x1="627" y1="443.4" x2="641" y2="443.4" stroke="#000" stroke-width="1" />
<line x1="627" y1="452.1" x2="641" y2="452.1" stroke="#44464f" stroke-width="1" />
<line x1="491.6" y1="445.5" x2="648" y2="445.5" stroke="#5c5f6e" stroke-width="0.7" />
<line x1="132.3" y1="469.6" x2="132.3" y2="508.5" stroke="#777777" stroke-width="1" />
<line x1="138.4" y1="469.6" x2="138.4" y2="486.8" stroke="#777777" stroke-width="1" />
<line x1="473.8" y1="469.4" x2="473.8" y2="486.8" stroke="#777777" stroke-width="1" />
<line x1="479.6" y1="469.4" x2="479.6" y2="508.5" stroke="#777777" stroke-width="1" />
<line x1="138.4" y1="482.4" x2="473.8" y2="482.4" stroke="#777777" stroke-width="1" />
<polygon points="138.6,482.4 145.0,480.5 145.0,484.3" fill="#111" stroke="none" stroke-width="1" />
<polygon points="473.6,482.4 467.2,484.3 467.2,480.5" fill="#111" stroke="none" stroke-width="1" />
<line x1="132.3" y1="504" x2="479.6" y2="504" stroke="#777777" stroke-width="1" />
<polygon points="132.5,504 138.9,502.1 138.9,505.9" fill="#111" stroke="none" stroke-width="1" />
<polygon points="479.4,504 473.0,505.9 473.0,502.1" fill="#111" stroke="none" stroke-width="1" />
<text x="199.8" y="479.8" font-family='"Liberation Sans", sans-serif' font-size="10.55" font-style="italic" fill="#1a1a1a" >3860 (между опорами столбов)</text>
<text x="289.6" y="501.6" font-family='"Liberation Sans", sans-serif' font-size="10.55" font-style="italic" fill="#1a1a1a" >4000 (между столбами)</text>
<line x1="498" y1="514.5" x2="901" y2="514.5" stroke="#3c3c3c" stroke-width="1" />
<line x1="498.5" y1="525.5" x2="640" y2="525.5" stroke="#3c3c3c" stroke-width="1" />
<line x1="498.5" y1="536.5" x2="640" y2="536.5" stroke="#3c3c3c" stroke-width="1" />
<line x1="498.5" y1="547.5" x2="640" y2="547.5" stroke="#3c3c3c" stroke-width="1" />
<line x1="498.5" y1="558" x2="640" y2="558" stroke="#a8a8a8" stroke-width="1.5" />
<line x1="498.5" y1="568.6" x2="640" y2="568.6" stroke="#a8a8a8" stroke-width="1.5" />
<line x1="498.5" y1="579.5" x2="640" y2="579.5" stroke="#a8a8a8" stroke-width="1.5" />
<line x1="498.5" y1="590.5" x2="640" y2="590.5" stroke="#3c3c3c" stroke-width="1" />
<line x1="498.5" y1="601.5" x2="640" y2="601.5" stroke="#3c3c3c" stroke-width="1" />
<line x1="498.5" y1="612.5" x2="640" y2="612.5" stroke="#3c3c3c" stroke-width="1" />
<line x1="498.5" y1="623.5" x2="640" y2="623.5" stroke="#3c3c3c" stroke-width="1" />
<line x1="498.7" y1="514" x2="498.7" y2="634.5" stroke="#666" stroke-width="1.3" />
<line x1="513.5" y1="514" x2="513.5" y2="569" stroke="#3c3c3c" stroke-width="1" />
<line x1="535.5" y1="514" x2="535.5" y2="634.5" stroke="#3c3c3c" stroke-width="1" />
<line x1="585.5" y1="514" x2="585.5" y2="634.5" stroke="#3c3c3c" stroke-width="1" />
<line x1="618.4" y1="514" x2="618.4" y2="634.5" stroke="#777" stroke-width="1.3" />
<line x1="640" y1="514" x2="640" y2="634.5" stroke="#555" stroke-width="1.4" />
<line x1="640" y1="547.5" x2="901" y2="547.5" stroke="#3c3c3c" stroke-width="1" />
<line x1="791.7" y1="547.5" x2="791.7" y2="634.5" stroke="#555" stroke-width="1.4" />
<line x1="824.5" y1="547.5" x2="824.5" y2="590.5" stroke="#3c3c3c" stroke-width="1" />
<line x1="861.5" y1="547.5" x2="861.5" y2="590.5" stroke="#3c3c3c" stroke-width="1" />
<line x1="792" y1="558" x2="901" y2="558" stroke="#a8a8a8" stroke-width="1.5" />
<line x1="802.5" y1="558" x2="802.5" y2="590.5" stroke="#a8a8a8" stroke-width="1.2" />
<line x1="813.7" y1="558" x2="813.7" y2="590.5" stroke="#a8a8a8" stroke-width="1.2" />
<line x1="792" y1="590.5" x2="901" y2="590.5" stroke="#3c3c3c" stroke-width="1" />
<line x1="640" y1="601.5" x2="901" y2="601.5" stroke="#3c3c3c" stroke-width="1" />
<text x="680" y="538.3" font-family='"Liberation Sans", sans-serif' font-size="20.4" font-style="italic" fill="#111" >НПК.129-13.003 СБ</text>
<text x="660.7" y="560.8" font-family='"Liberation Serif", serif' font-size="12.2" font-style="italic" fill="#1a1a1a" >Ворота откатные 4м</text>
<text x="677" y="596" font-family='"Liberation Sans", sans-serif' font-size="7.4" font-style="italic" fill="#1a1a1a"  stroke="#1a1a1a" stroke-width="0.14">Сборочный чертеж</text>
<text x="801.4" y="555.6" font-family='"Liberation Sans", sans-serif' font-size="7.1" font-style="italic" fill="#1a1a1a"  stroke="#1a1a1a" stroke-width="0.14">Лит.</text>
<text x="833.6" y="555.6" font-family='"Liberation Sans", sans-serif' font-size="7.27" font-style="italic" fill="#1a1a1a"  stroke="#1a1a1a" stroke-width="0.14">Масса</text>
<text x="865.8" y="555.6" font-family='"Liberation Sans", sans-serif' font-size="7.5" font-style="italic" fill="#1a1a1a"  stroke="#1a1a1a" stroke-width="0.14">Масштаб</text>
<text x="866.4" y="577.9" font-family='"Liberation Sans", sans-serif' font-size="14.4" font-style="italic" fill="#111" >1:25</text>
<text x="794.2" y="599.1" font-family='"Liberation Sans", sans-serif' font-size="7.36" font-style="italic" fill="#1a1a1a"  stroke="#1a1a1a" stroke-width="0.14">Лист 1</text>
<text x="837.7" y="599.1" font-family='"Liberation Sans", sans-serif' font-size="7.5" font-style="italic" fill="#1a1a1a"  stroke="#1a1a1a" stroke-width="0.14">Листов 3</text>
<text x="807.4" y="618.2" font-family='"Liberation Sans", sans-serif' font-size="10.6" font-style="italic" fill="#1a1a1a" >Нева-Полимер</text>
<text x="499" y="566" font-family='"Liberation Sans", sans-serif' font-size="6.9" font-style="italic" fill="#1a1a1a"  stroke="#1a1a1a" stroke-width="0.14">Изм.</text>
<text x="517.4" y="566" font-family='"Liberation Sans", sans-serif' font-size="7.3" font-style="italic" fill="#1a1a1a"  stroke="#1a1a1a" stroke-width="0.14">Лист</text>
<text x="546" y="566" font-family='"Liberation Sans", sans-serif' font-size="7.26" font-style="italic" fill="#1a1a1a"  stroke="#1a1a1a" stroke-width="0.14">№ докум.</text>
<text x="594" y="566" font-family='"Liberation Sans", sans-serif' font-size="7.3" font-style="italic" fill="#1a1a1a"  stroke="#1a1a1a" stroke-width="0.14">Подп.</text>
<text x="620" y="566" font-family='"Liberation Sans", sans-serif' font-size="7.5" font-style="italic" fill="#1a1a1a"  stroke="#1a1a1a" stroke-width="0.14">Дата</text>
<text x="503.4" y="577" font-family='"Liberation Sans", sans-serif' font-size="7.2" font-style="italic" fill="#1a1a1a"  stroke="#1a1a1a" stroke-width="0.14">Разраб.</text>
<text x="537.6" y="578.5" font-family='"Liberation Sans", sans-serif' font-size="8.7" font-style="italic" fill="#1a1a1a"  stroke="#1a1a1a" stroke-width="0.14">Трошкин</text>
<text x="619.1" y="577" font-family='"Liberation Sans", sans-serif' font-size="5.8" font-style="italic" fill="#1a1a1a"  stroke="#1a1a1a" stroke-width="0.14">04.09.2013</text>
<text x="503.4" y="587.6" font-family='"Liberation Sans", sans-serif' font-size="7.05" font-style="italic" fill="#1a1a1a"  stroke="#1a1a1a" stroke-width="0.14">Пров.</text>
<text x="503.9" y="598.3" font-family='"Liberation Sans", sans-serif' font-size="7.0" font-style="italic" fill="#1a1a1a"  stroke="#1a1a1a" stroke-width="0.14">Т.контр.</text>
<text x="503.1" y="609.1" font-family='"Liberation Sans", sans-serif' font-size="7.46" font-style="italic" fill="#1a1a1a"  stroke="#1a1a1a" stroke-width="0.14">Нач. КБ</text>
<text x="503" y="620" font-family='"Liberation Sans", sans-serif' font-size="7.0" font-style="italic" fill="#1a1a1a"  stroke="#1a1a1a" stroke-width="0.14">Н.контр.</text>
<text x="503" y="630.5" font-family='"Liberation Sans", sans-serif' font-size="6.95" font-style="italic" fill="#1a1a1a"  stroke="#1a1a1a" stroke-width="0.14">Утв.</text>
<text x="498.1" y="640.9" font-family='"Liberation Sans", sans-serif' font-size="7.4" font-style="italic" fill="#1a1a1a"  stroke="#1a1a1a" stroke-width="0.14">сб ворот откатных</text>
<text x="641.9" y="641.7" font-family='"Liberation Sans", sans-serif' font-size="7.46" font-style="italic" fill="#1a1a1a"  stroke="#1a1a1a" stroke-width="0.14">Копировал</text>
<text x="862" y="641" font-family='"Liberation Sans", sans-serif' font-size="7.3" font-style="italic" fill="#1a1a1a"  stroke="#1a1a1a" stroke-width="0.14">Формат А3</text>
<text x="594.3" y="602.8" textLength="277.5" lengthAdjust="spacingAndGlyphs" font-family='"Liberation Sans", sans-serif' font-size="45" fill="#838383" stroke="#838383" stroke-width="0.5">nevapolimer.ru</text>
</svg>
</body></html>
